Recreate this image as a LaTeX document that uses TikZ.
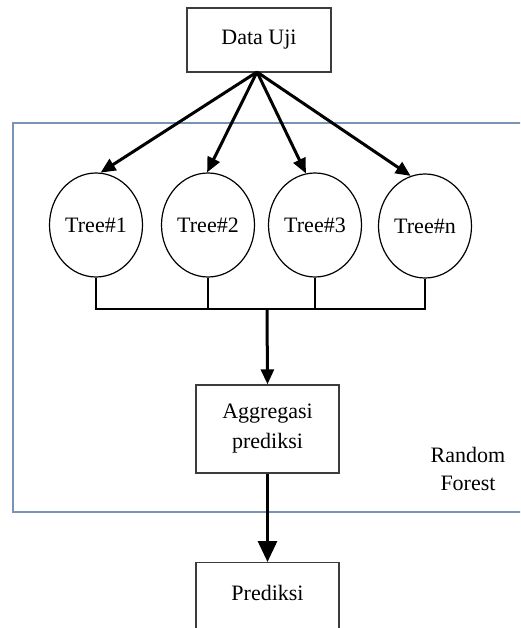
\documentclass[tikz,border=0pt]{standalone}
\usepackage{fontspec}
\setmainfont{Liberation Serif}
\usetikzlibrary{shapes.geometric,arrows.meta,calc}
\definecolor{rfblue}{RGB}{122,148,184}
\definecolor{boxgray}{RGB}{60,60,60}
\tikzset{
  box/.style={draw=boxgray, line width=1.4pt, fill=white, rectangle, inner sep=0pt, minimum width=143pt, align=center, font=\fontsize{22}{30}\selectfont},
  treenode/.style={draw=black, line width=1.2pt, fill=white, ellipse, inner sep=0pt, minimum width=93pt, minimum height=104pt, font=\fontsize{22}{26}\selectfont},
  thickarrow/.style={line width=3pt, -{Triangle[length=15pt,width=13pt]}},
  bigarrow/.style={line width=3pt, -{Triangle[length=21pt,width=19pt]}},
  stem/.style={line width=2.4pt},
  lbl/.style={align=center, font=\fontsize{22}{28}\selectfont, inner sep=0pt}
}
\begin{document}
\begin{tikzpicture}[x=1pt,y=-1pt]
\useasboundingbox (0,0) rectangle (520,628);
\clip (0,0) rectangle (520,628);
% Random Forest frame
\draw[rfblue, line width=2pt] (530,123) -- (13,123) -- (13,512) -- (530,512);
\node[lbl] (rf) at (468,469) {Random\\Forest};
% nodes
\node[box, minimum width=144pt, minimum height=64pt] (data) at (259,40) {Data Uji};
\node[treenode] (t1) at (96,225) {Tree\#1};
\node[treenode] (t2) at (208,225) {Tree\#2};
\node[treenode] (t3) at (315,225) {Tree\#3};
\node[treenode] (tn) at (425,226) {\raisebox{-4pt}{Tree\#n}};
\node[box, minimum height=88pt] (agg) at (267.5,429) {Aggregasi\\prediksi};
\node[box, minimum height=88pt, anchor=north] (pred) at (267.5,562) {};
\node[lbl] (predtxt) at (267.5,593) {Prediksi};
% arrows from data
\coordinate (apex) at (257,72);
\draw[thickarrow] (apex) -- (t1.85);
\draw[thickarrow] (apex) -- (t2.91);
\draw[thickarrow] (apex) -- (t3.100);
\draw[thickarrow] (apex) -- (tn.106);
% bus
\coordinate (bus) at (267,309);
\draw[stem] (t1.south) -- (t1.south |- bus);
\draw[stem] (t2.south) -- (t2.south |- bus);
\draw[stem] (t3.south) -- (t3.south |- bus);
\draw[stem] (tn.south) -- (tn.south |- bus);
\draw[stem] ([xshift=-1.2pt]t1.south |- bus) -- ([xshift=1.2pt]tn.south |- bus);
\draw[thickarrow] (bus) -- (agg.north);
\draw[bigarrow] (agg.south) -- (pred.north);
\end{tikzpicture}
\end{document}
